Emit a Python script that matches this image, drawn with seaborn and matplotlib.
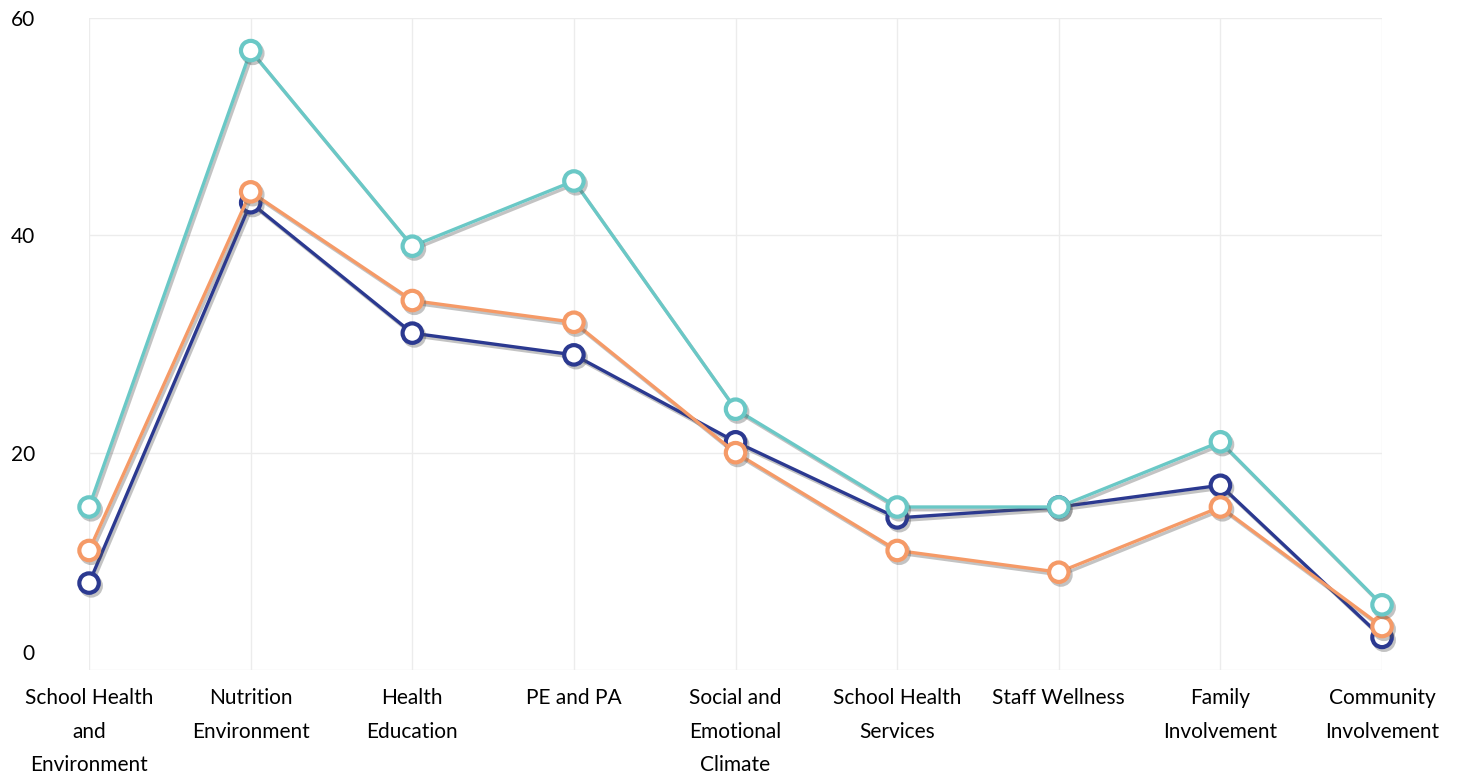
import numpy as np
import pandas as pd
import matplotlib
matplotlib.use("Agg")
import matplotlib.pyplot as plt
import matplotlib.patheffects as pe
import matplotlib.transforms as mtransforms
import seaborn as sns

# data
categories = ["School Health\nand\nEnvironment", "Nutrition\nEnvironment", "Health\nEducation",
              "PE and PA", "Social and\nEmotional\nClimate", "School Health\nServices",
              "Staff Wellness", "Family\nInvolvement", "Community\nInvolvement"]
navy_vals = [8, 43, 31, 29, 21, 14, 15, 17, 3]
orange_vals = [11, 44, 34, 32, 20, 11, 9, 15, 4]
teal_vals = [15, 57, 39, 45, 24, 15, 15, 21, 6]
series_names = ["Series A", "Series B", "Series C"]
colors = ["#2b3990", "#f59a67", "#6ac8c6"]
y_ticks = [0, 20, 40, 60]

df = pd.DataFrame({
    "category": categories * 3,
    "value": navy_vals + orange_vals + teal_vals,
    "series": np.repeat(series_names, len(categories)),
})

sns.set_style("white")
plt.rcParams['font.family'] = ['Lato', 'DejaVu Sans']
plt.rcParams['text.color'] = 'black'
plt.rcParams['xtick.color'] = 'black'
plt.rcParams['ytick.color'] = 'black'

fig = plt.figure(figsize=(14.6, 7.78), dpi=100)
ax = fig.add_axes([0.061, 0.1388, 0.8856, 0.8381])

sns.lineplot(data=df, x="category", y="value", hue="series", palette=colors,
             marker="o", markersize=14, markerfacecolor="white", markeredgewidth=3,
             linewidth=2.4, sort=False, legend=False, ax=ax)

for line in ax.get_lines():
    line.set_markeredgecolor(line.get_color())
    line.set_markerfacecolor("white")
    line.set_path_effects([pe.SimpleLineShadow(offset=(1.5, -2), shadow_color="#555555", alpha=0.35),
                           pe.Normal()])
    line.set_clip_on(False)

ax.set_xlim(0, len(categories) - 1)
ax.set_ylim(0, 60)
ax.set_yticks(y_ticks)
ax.set_yticklabels([str(t) for t in y_ticks], fontsize=15, color="black")
ax.set_xticks(range(len(categories)))
ax.set_xticklabels(categories, fontsize=15, linespacing=1.84, color="black")
ax.tick_params(axis="x", length=0, pad=13)
ax.tick_params(axis="y", length=0, pad=39)

# nudge the 0 label up, as in the reference
lab0 = ax.get_yticklabels()[0]
lab0.set_transform(lab0.get_transform() + mtransforms.ScaledTranslation(0, 18 / 100, fig.dpi_scale_trans))

ax.grid(True, color="#ececec", linewidth=1)
ax.set_axisbelow(True)
for s in ax.spines.values():
    s.set_visible(False)
ax.set_xlabel("")
ax.set_ylabel("")

fig.savefig("out.png", dpi=100)
